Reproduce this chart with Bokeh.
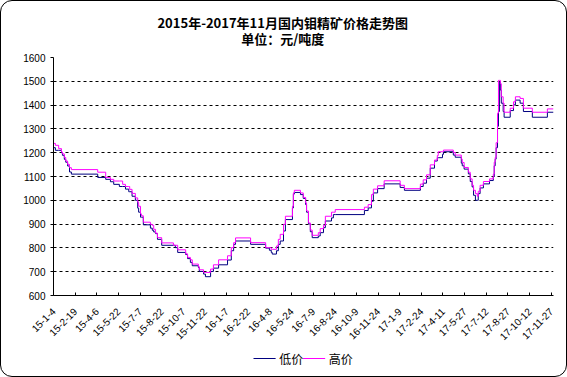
import math
from datetime import date
from bokeh.plotting import figure
from bokeh.layouts import column
from bokeh.models import Range1d, FixedTicker
from bokeh.core.properties import value
from bokeh.embed import file_html
from bokeh.resources import INLINE

# days since 2015-01-04 at which the price changes
days = [0, 4, 11, 17, 19, 23, 26, 30, 34, 38, 94, 111, 121, 128, 140, 147, 153, 160, 162, 167,
        174, 179, 181, 185, 187, 191, 206, 210, 213, 217, 221, 230, 255, 259, 264, 281, 285, 291,
        295, 308, 310, 319, 323, 334, 340, 351, 370, 378, 383, 387, 419, 451, 459, 463, 465, 474,
        478, 482, 489, 493, 508, 510, 512, 525, 531, 536, 538, 542, 546, 550, 563, 567, 574, 578,
        591, 595, 599, 661, 669, 676, 680, 689, 703, 737, 746, 780, 786, 793, 801, 810, 816, 818,
        827, 829, 850, 854, 867, 869, 873, 882, 886, 890, 893, 897, 901, 903, 907, 914, 927, 935,
        937, 939, 941, 944, 946, 948, 950, 952, 956, 958, 971, 978, 982, 992, 999, 1018, 1050, 1063]
low = [1221, 1210, 1210, 1200, 1189, 1172, 1160, 1144, 1119, 1110, 1096, 1088, 1078, 1067, 1058, 1058,
       1047, 1036, 1036, 1017, 1000, 967, 950, 929, 929, 897, 883, 874, 867, 860, 836, 811, 811, 801,
       781, 772, 755, 739, 725, 718, 701, 690, 679, 701, 715, 729, 749, 788, 815, 829, 815, 799, 790,
       781, 774, 788, 815, 829, 871, 919, 968, 1026, 1033, 1024, 1008, 982, 950, 901, 868, 843, 850,
       864, 885, 913, 926, 940, 940, 957, 968, 996, 1031, 1049, 1069, 1054, 1042, 1058, 1072, 1093,
       1135, 1165, 1179, 1179, 1193, 1204, 1190, 1181, 1156, 1145, 1131, 1111, 1079, 1056, 1021, 1000,
       1000, 1028, 1052, 1069, 1083, 1100, 1145, 1173, 1221, 1311, 1373, 1497, 1463, 1408, 1373, 1349,
       1377, 1401, 1421, 1408, 1373, 1349, 1370, 1370]
high = [1239, 1231, 1217, 1203, 1195, 1180, 1165, 1151, 1137, 1129, 1118, 1096, 1088, 1081, 1081, 1067,
        1058, 1058, 1046, 1029, 1010, 992, 975, 943, 935, 908, 899, 895, 878, 862, 843, 821, 811, 811,
        792, 775, 760, 750, 732, 721, 708, 697, 697, 711, 729, 750, 767, 801, 822, 842, 822, 801, 801,
        794, 794, 808, 836, 857, 899, 933, 975, 1031, 1042, 1031, 1012, 989, 955, 905, 875, 853, 864,
        881, 895, 933, 950, 950, 961, 971, 982, 1024, 1047, 1061, 1082, 1063, 1049, 1068, 1086, 1107,
        1149, 1169, 1188, 1204, 1204, 1211, 1201, 1190, 1173, 1159, 1138, 1118, 1090, 1063, 1042, 1028,
        1017, 1038, 1063, 1079, 1090, 1110, 1160, 1180, 1242, 1366, 1504, 1504, 1490, 1435, 1408, 1370,
        1387, 1414, 1435, 1428, 1387, 1370, 1384, 1384]

tick_labels = ["15-1-4", "15-2-19", "15-4-6", "15-5-22", "15-7-7", "15-8-22", "15-10-7", "15-11-22",
               "16-1-7", "16-2-22", "16-4-8", "16-5-24", "16-7-9", "16-8-24", "16-10-9", "16-11-24",
               "17-1-9", "17-2-24", "17-4-11", "17-5-27", "17-7-12", "17-8-27", "17-10-12", "17-11-27"]
y_ticks = [600, 700, 800, 900, 1000, 1100, 1200, 1300, 1400, 1500, 1600]
series_names = ["低价", "高价"]
series_colors = ["#000080", "#FF00FF"]

title_lines = ["2015年-2017年11月国内钼精矿价格走势图", "单位：元/吨度"]

start = date(2015, 1, 4)


def to_day(lbl):
    y, m, d = (int(v) for v in lbl.split("-"))
    return (date(2000 + y, m, d) - start).days


tick_pos = [to_day(t) for t in tick_labels]

W = 565
CJK = value("Noto Sans CJK SC")


def strip(h):
    f = figure(width=W, height=h, output_backend="svg", toolbar_location=None,
               x_range=Range1d(0, W), y_range=Range1d(0, h), title=None,
               min_border=0, outline_line_color=None)
    f.axis.visible = False
    f.grid.visible = False
    f.border_fill_color = None
    f.background_fill_color = None
    return f


# title strip
top = strip(48)
top.text(x=[259, 259], y=[27, 11], text=title_lines, text_font=CJK,
         text_font_size="13px", text_font_style="bold", text_color="black",
         text_align="center", text_baseline="middle")

# main chart
p = figure(width=W, height=297, output_backend="svg", toolbar_location=None,
           x_range=Range1d(0, 1063), y_range=Range1d(600, 1600), title=None)
p.min_border_left = 52
p.min_border_right = 13
p.min_border_top = 8
p.min_border_bottom = 48
p.outline_line_color = None
p.background_fill_color = "white"
p.border_fill_color = None

p.step(days, low, mode="after", line_color=series_colors[0], line_width=1)
p.step(days, high, mode="after", line_color=series_colors[1], line_width=1)

p.xaxis.ticker = FixedTicker(ticks=tick_pos)
p.xaxis.major_label_overrides = {tp: lbl for tp, lbl in zip(tick_pos, tick_labels)}
p.xaxis.major_label_orientation = math.pi / 4
p.xaxis.major_label_standoff = 14
p.xaxis.major_tick_in = 3
p.xaxis.major_tick_out = 0
p.xaxis.minor_tick_line_color = None
p.xaxis.major_label_text_font = "Liberation Sans"
p.xaxis.major_label_text_font_size = "10px"
p.xaxis.major_label_text_color = "black"
p.xaxis.axis_line_color = "black"

p.yaxis.ticker = FixedTicker(ticks=y_ticks)
p.yaxis.major_tick_in = 0
p.yaxis.major_tick_out = 3
p.yaxis.minor_tick_line_color = None
p.yaxis.major_label_text_font = "Liberation Sans"
p.yaxis.major_label_text_font_size = "10px"
p.yaxis.major_label_text_color = "black"
p.yaxis.axis_line_color = "black"

p.xgrid.visible = False
p.ygrid.grid_line_color = "black"
p.ygrid.grid_line_dash = "3 3"
p.ygrid.grid_line_width = 1

# legend strip
lg = strip(30)
lg.segment(x0=[226, 282], y0=[18, 18], x1=[251, 307], y1=[18, 18],
           line_color=series_colors, line_width=1)
lg.text(x=[255, 311], y=[18, 18], text=series_names, text_font=CJK,
        text_font_size="12px", text_color="black", text_baseline="middle")

layout = column(top, p, lg, spacing=0)
layout.styles = {"border": "1px solid black", "border-radius": "12px", "background": "white"}

open("out.html", "w").write(file_html(layout, INLINE))
